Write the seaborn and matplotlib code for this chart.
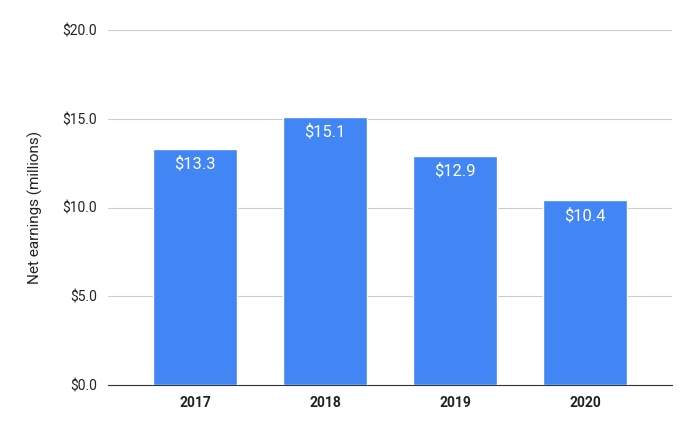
import matplotlib
matplotlib.use("Agg")
import matplotlib.pyplot as plt
import seaborn as sns
import pandas as pd

years = ["2017", "2018", "2019", "2020"]
earnings = [13.3, 15.1, 12.9, 10.4]
yticks = [0, 5, 10, 15, 20]

sns.set_style("white")
plt.rcParams['font.family'] = ['Roboto', 'DejaVu Sans']

df = pd.DataFrame({"year": years, "earnings": earnings})

fig = plt.figure(figsize=(6.94, 4.30), dpi=100)
ax = fig.add_axes([108/694, 45/430, 564/694, 355/430])

sns.barplot(data=df, x="year", y="earnings", color="#4285F4", saturation=1,
            width=0.646, ax=ax, zorder=3)

for p, v in zip(ax.patches, earnings):
    ax.text(p.get_x() + p.get_width()/2, v - 0.42, f"${v:.1f}", ha="center", va="top",
            color="white", fontsize=12)

ax.set_xlim(-0.67, 3.67)
ax.set_ylim(0, 20)
ax.set_yticks(yticks)
ax.set_yticklabels([f"${t:.1f}" for t in yticks], fontsize=10, color="#222222")
ax.grid(axis="y", color="#cccccc", linewidth=0.8, zorder=0)
ax.set_axisbelow(True)
for s in ["top", "right", "left"]:
    ax.spines[s].set_visible(False)
ax.spines["bottom"].set_color("#333333")
ax.tick_params(axis="both", length=0, pad=8)
for lbl in ax.get_xticklabels():
    lbl.set_fontweight("bold")
    lbl.set_fontsize(10)
    lbl.set_color("#222222")
ax.set_xlabel("")
ax.set_ylabel("Net earnings (millions)", fontsize=11, color="#222222", labelpad=14)

fig.savefig("out.png", dpi=100)
